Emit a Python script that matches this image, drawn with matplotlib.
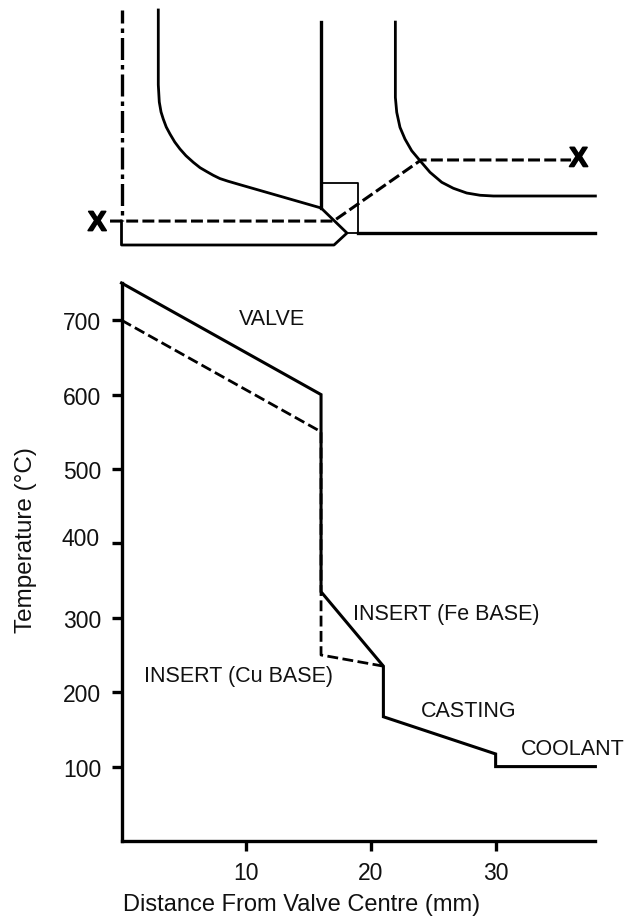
import numpy as np
import matplotlib as mplt
mplt.use("Agg")
import matplotlib.pyplot as plt
import matplotlib.patheffects as pe
from matplotlib.transforms import ScaledTranslation

mplt.rcParams['font.family'] = ['Liberation Sans', 'DejaVu Sans']

# temperature profiles (mm, deg C)
fe_x = [0, 16, 16, 21, 21, 30, 30, 38]
fe_t = [750, 600, 335, 235, 167, 117, 100, 100]
cu_x = [0, 16, 16, 21]
cu_t = [700, 550, 250, 235]

x_ticks = [10, 20, 30]
t_ticks = [100, 200, 300, 400, 500, 600, 700]

# labels: text, x, temperature
region_names = ["VALVE", "INSERT (Fe BASE)", "INSERT (Cu BASE)", "CASTING", "COOLANT"]
region_x = [9.4, 18.6, 1.8, 24.0, 32.0]
region_t = [702, 306, 222, 175, 124]

# sketch of the valve and seat, mm from the centre line and from the bottom edge
valve_x = [2.95, 2.95, 3.03, 3.17, 3.35, 3.59, 3.89, 4.27, 4.69, 5.17, 5.76, 6.30, 6.83, 7.36, 7.89, 8.53, 9.49, 16.0, 18.08, 17.04, 0, 0]
valve_y = [18.85, 12.85, 11.47, 10.67, 10.10, 9.46, 8.90, 8.26, 7.70, 7.16, 6.63, 6.20, 5.89, 5.59, 5.33, 5.12, 4.84, 2.97, 0.96, 0, 0, 1.92]
stem_x = [16, 16]
stem_y = [17.88, 2.97]
box_x = [16, 19, 19, 18.08]
box_y = [4.97, 4.97, 0.96, 0.96]
seat_x = [19, 38]
seat_y = [0.96, 0.96]
port_x = [21.96, 21.96, 22.07, 22.33, 22.73, 23.27, 23.94, 24.74, 25.68, 26.61, 27.68, 28.75, 29.82, 38]
port_y = [17.88, 11.84, 10.64, 9.44, 8.50, 7.56, 6.76, 5.83, 5.03, 4.55, 4.17, 3.99, 3.93, 3.93]
centre_x = [0, 0]
centre_y = [18.85, 1.92]
section_x = [-0.92, 17.0, 24.02, 36.05]
section_y = [1.92, 1.92, 6.82, 6.82]
mark_x = [-1.95, 36.65]
mark_y = [1.72, 6.86]

W, H = 626.0, 920.0
x0, x1 = 121.5, 595.4

fig = plt.figure(figsize=(W / 100, H / 100), dpi=100)

ax = fig.add_axes([x0 / W, 1 - 842 / H, (x1 - x0) / W, (842 - 284) / H])
ax.plot(fe_x, fe_t, color="k", lw=2.2, solid_joinstyle="miter", clip_on=False)
ax.plot(cu_x, cu_t, color="k", lw=2.0, ls=(0, (3.9, 1.6)), clip_on=False)

for name, x, t in zip(region_names, region_x, region_t):
    ax.text(x, t, name, fontsize=15.5, color="#111111", va="center", ha="left")

ax.set_xlim([0, 38])
ax.set_ylim([0, 750])
ax.set_xticks(x_ticks)
ax.set_yticks(t_ticks)
ax.spines["top"].set_visible(False)
ax.spines["right"].set_visible(False)
ax.spines["left"].set_linewidth(2.4)
ax.spines["bottom"].set_linewidth(2.4)
ax.tick_params(axis="both", direction="out", length=7.5, width=2.4, labelsize=16.5, pad=7, labelcolor="#111111")
ax.set_xlabel("Distance From Valve Centre (mm)", fontsize=17, color="#111111")
ax.set_ylabel("Temperature (\N{DEGREE SIGN}C)", fontsize=17.5, color="#111111")
ax.xaxis.set_label_coords(0.381, -0.094)
ax.yaxis.set_label_coords(-0.178, 0.541)

# the 400 label sits a little high and to the left in the original
ax.get_yticklabels()[3].set_transform(ax.get_yticklabels()[3].get_transform() + ScaledTranslation(-0.02, 0.07, fig.dpi_scale_trans))

# schematic above the chart, same mm scale
ax_top = fig.add_axes([x0 / W, 1 - 246 / H, (x1 - x0) / W, (246 - 11) / H])
ax_top.set_xlim([0, 38])
ax_top.set_ylim([0, 18.85])
ax_top.axis("off")

ax_top.plot(valve_x, valve_y, color="k", lw=2.0, clip_on=False)
ax_top.plot(stem_x, stem_y, color="k", lw=2.4, clip_on=False)
ax_top.plot(box_x, box_y, color="k", lw=1.3, clip_on=False)
ax_top.plot(seat_x, seat_y, color="k", lw=2.4, clip_on=False)
ax_top.plot(port_x, port_y, color="k", lw=2.0, clip_on=False)
ax_top.plot(centre_x, centre_y, color="k", lw=2.4, ls=(2.7, (6.6, 1.5, 1.35, 1.5)), dash_capstyle="butt", clip_on=False)
ax_top.plot(section_x, section_y, color="k", lw=2.2, ls=(0, (3.9, 1.4)), clip_on=False)

for x, y in zip(mark_x, mark_y):
    ax_top.text(x, y, "X", fontsize=20, fontweight="bold", ha="center", va="center", clip_on=False,
                path_effects=[pe.withStroke(linewidth=1.2, foreground="k")])

fig.savefig("out.png", dpi=100)
plt.close(fig)
